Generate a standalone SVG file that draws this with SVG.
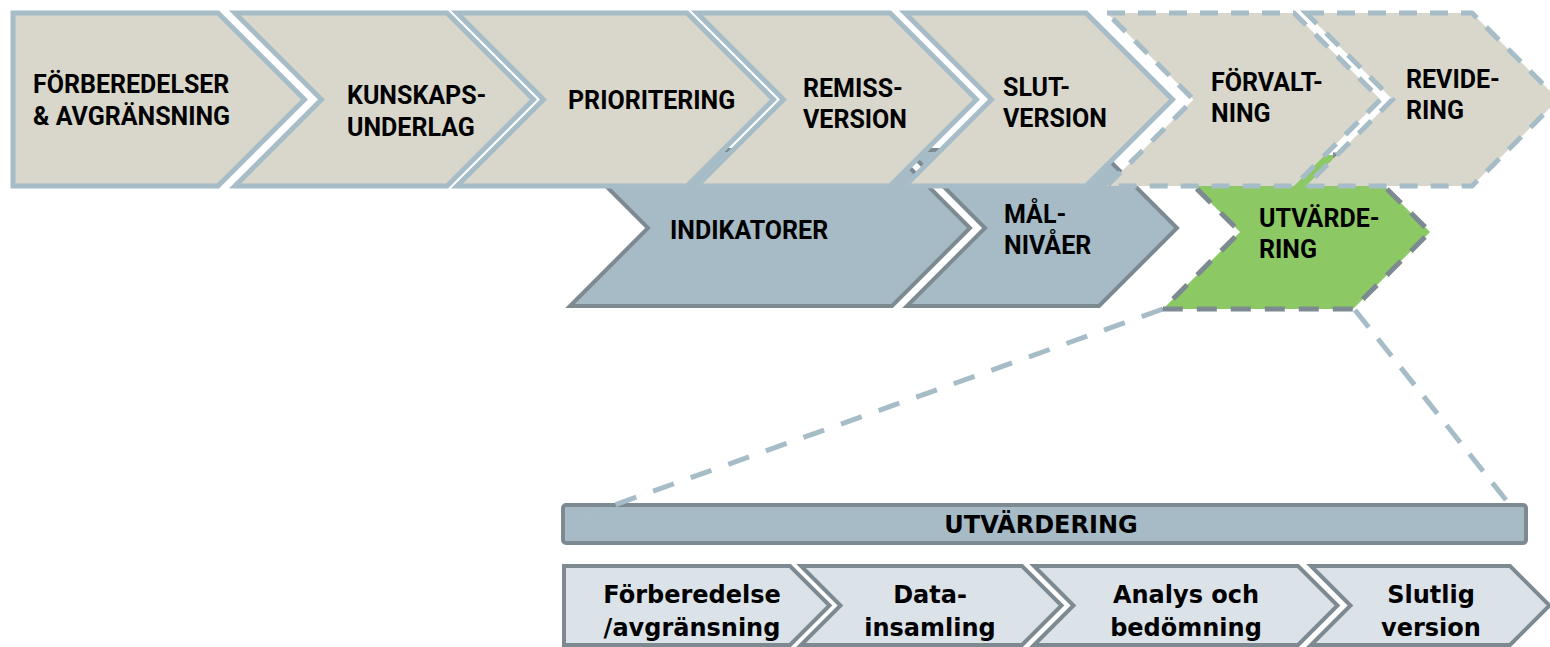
<svg xmlns="http://www.w3.org/2000/svg" width="1550" height="647" viewBox="0 0 1550 647">
  <style>
    .stage { fill: #d9d7cc; stroke: #a6bcc7; stroke-width: 5; stroke-linejoin: miter; }
    .stage-dash { fill: #d9d7cc; stroke: #a6bcc7; stroke-width: 5; stroke-dasharray: 18 13; }
    .sub { fill: #a6bbc6; stroke: #7d8a91; stroke-width: 4; }
    .eval { fill: #8cc863; stroke: #7d8a91; stroke-width: 5; stroke-dasharray: 20 14; }
    .bar { fill: #a6bbc6; stroke: #7d8a91; stroke-width: 4; }
    .step { fill: #dbe3e8; stroke: #7d8a91; stroke-width: 4; }
    .zoom { fill: none; stroke: #a6bcc7; stroke-width: 5; }
    .cap { font-family: Roboto, "Liberation Sans", sans-serif; font-weight: 700; font-size: 25px; fill: #000; }
    .low { font-family: "DejaVu Sans", "Liberation Sans", sans-serif; font-weight: 700; font-size: 24px; fill: #000; text-anchor: middle; }
  </style>

  <!-- second row: sub-phases sitting behind the main process row -->
  <g id="indikatorer">
    <path class="sub" d="M570,150 L892,150 L970,228 L892,306 L570,306 L648,228 Z"/>
    <text class="cap" x="670" y="239">INDIKATORER</text>
  </g>
  <g id="malnivaer">
    <path class="sub" d="M907,150 L1099,150 L1177,228 L1099,306 L907,306 L985,228 Z"/>
    <text class="cap" x="1004" y="223">MÅL-</text>
    <text class="cap" x="1004" y="254">NIVÅER</text>
  </g>
  <g id="utvardering">
    <path class="eval" d="M1163,155 L1353,155 L1430,232 L1353,309 L1163,309 L1240,232 Z"/>
    <text class="cap" x="1259" y="227">UTVÄRDE-</text>
    <text class="cap" x="1259" y="258">RING</text>
  </g>

  <!-- main process row -->
  <g id="forberedelser">
    <path class="stage" d="M13,13 L218,13 L304.5,99.5 L218,186 L13,186 Z"/>
    <text class="cap" x="33" y="93">FÖRBEREDELSER</text>
    <text class="cap" x="33" y="125">&amp; AVGRÄNSNING</text>
  </g>
  <g id="kunskapsunderlag">
    <path class="stage" d="M235,13 L447,13 L533.5,99.5 L447,186 L235,186 L321.5,99.5 Z"/>
    <text class="cap" x="347" y="104">KUNSKAPS-</text>
    <text class="cap" x="347" y="136">UNDERLAG</text>
  </g>
  <g id="prioritering">
    <path class="stage" d="M457,13 L687,13 L773.5,99.5 L687,186 L457,186 L543.5,99.5 Z"/>
    <text class="cap" x="568" y="109">PRIORITERING</text>
  </g>
  <g id="remissversion">
    <path class="stage" d="M697,13 L890,13 L976.5,99.5 L890,186 L697,186 L783.5,99.5 Z"/>
    <text class="cap" x="803" y="97">REMISS-</text>
    <text class="cap" x="803" y="128">VERSION</text>
  </g>
  <g id="slutversion">
    <path class="stage" d="M905,13 L1086,13 L1172.5,99.5 L1086,186 L905,186 L991.5,99.5 Z"/>
    <text class="cap" x="1003" y="96">SLUT-</text>
    <text class="cap" x="1003" y="127">VERSION</text>
  </g>
  <g id="forvaltning">
    <path class="stage-dash" d="M1107,13 L1294,13 L1380.5,99.5 L1294,186 L1107,186 L1193.5,99.5 Z"/>
    <text class="cap" x="1211" y="91">FÖRVALT-</text>
    <text class="cap" x="1211" y="122">NING</text>
  </g>
  <g id="revidering">
    <path class="stage-dash" d="M1306,13 L1472,13 L1558.5,99.5 L1472,186 L1306,186 L1392.5,99.5 Z"/>
    <text class="cap" x="1406" y="88">REVIDE-</text>
    <text class="cap" x="1406" y="119">RING</text>
  </g>

  <!-- expanded evaluation: header bar and its steps -->
  <g id="utvardering-bar">
    <rect class="bar" x="563" y="505" width="963" height="38" rx="3"/>
    <text class="low" x="1041" y="533">UTVÄRDERING</text>
  </g>
  <g id="steg-forberedelse">
    <path class="step" d="M564,566 L790,566 L829.5,605.5 L790,645 L564,645 Z"/>
    <text class="low" x="692" y="603">Förberedelse</text>
    <text class="low" x="692" y="636">/avgränsning</text>
  </g>
  <g id="steg-datainsamling">
    <path class="step" d="M801,566 L1022,566 L1061.5,605.5 L1022,645 L801,645 L840.5,605.5 Z"/>
    <text class="low" x="930" y="603">Data-</text>
    <text class="low" x="930" y="636">insamling</text>
  </g>
  <g id="steg-analys">
    <path class="step" d="M1034,566 L1298,566 L1337.5,605.5 L1298,645 L1034,645 L1073.5,605.5 Z"/>
    <text class="low" x="1186" y="603">Analys och</text>
    <text class="low" x="1186" y="636">bedömning</text>
  </g>
  <g id="steg-slutlig">
    <path class="step" d="M1311,566 L1510,566 L1549.5,605.5 L1510,645 L1311,645 L1350.5,605.5 Z"/>
    <text class="low" x="1431" y="603">Slutlig</text>
    <text class="low" x="1431" y="636">version</text>
  </g>

  <!-- dashed zoom lines from the evaluation chevron to the expanded bar;
       dash lengths chosen so both ends finish on a dash -->
  <g id="connectors">
    <line class="zoom" stroke-dasharray="22 17.9" x1="578" y1="518" x2="1163" y2="309"/>
    <line class="zoom" stroke-dasharray="22 14.8" x1="1355" y1="310" x2="1506" y2="500"/>
  </g>
</svg>
